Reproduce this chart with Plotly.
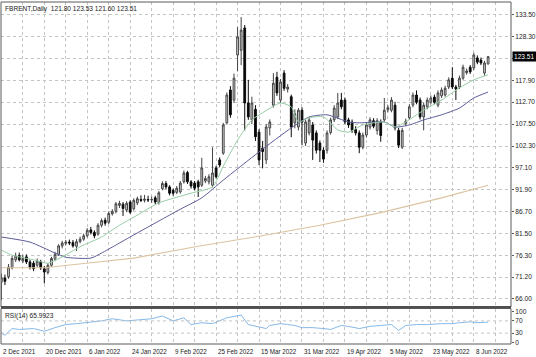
import plotly.graph_objects as go

# ---------------- data ----------------
symbol_header = "FBRENT,Daily  121.80 123.53 121.60 123.51"
rsi_header = "RSI(14) 65.9923"
last_price = 123.51

opens = [70.0, 71.0, 71.3, 73.4, 75.3, 76.3, 75.0, 76.0, 74.8, 74.5,
         74.0, 74.8, 73.2, 72.3, 74.0, 75.5, 76.6, 78.6, 79.2, 79.5,
         79.4, 78.5, 79.6, 80.2, 81.0, 82.4, 81.8, 81.4, 83.5, 84.7,
         84.2, 86.2, 86.8, 88.2, 88.5, 87.1, 89.0, 87.4, 88.8, 89.6,
         89.4, 89.6, 89.5, 90.0, 88.9, 92.2, 93.4, 92.6, 91.8, 91.3,
         91.4, 93.8, 96.0, 93.8, 93.5, 93.8, 93.0, 94.0, 93.8, 93.0,
         97.1, 99.0, 100.6, 107.8, 115.6, 113.2, 123.9, 125.0, 130.3, 112.5,
         108.5, 111.0, 105.6, 101.8, 99.0, 106.6, 112.0, 118.6, 113.2, 119.6,
         115.8, 114.0, 107.8, 106.8, 110.8, 103.0, 105.4, 107.3, 105.4, 103.0,
         101.3, 101.3, 105.5, 108.5, 109.2, 113.2, 113.2, 108.5, 108.0, 106.2,
         105.4, 102.0, 104.9, 106.8, 108.3, 106.0, 108.0, 108.5, 110.9, 110.8,
         112.0, 106.0, 102.0, 107.6, 109.0, 112.0, 114.4, 113.2, 109.2, 111.6,
         112.7, 113.9, 112.0, 114.2, 114.4, 116.3, 118.4, 116.3, 116.3, 118.4,
         119.7, 121.0, 120.8, 123.2, 122.7, 119.6, 121.80]
highs = [72.0, 71.8, 74.3, 76.3, 77.0, 77.0, 76.5, 76.6, 75.3, 75.0,
         75.6, 75.3, 73.8, 74.5, 76.0, 77.2, 79.0, 79.8, 80.0, 80.1,
         80.0, 80.2, 80.8, 81.5, 82.8, 83.1, 82.3, 84.0, 85.1, 85.3,
         86.8, 87.3, 89.0, 89.3, 89.0, 89.2, 89.4, 89.9, 90.3, 90.6,
         90.7, 90.5, 90.3, 90.5, 91.6, 93.9, 94.0, 93.0, 92.2, 92.8,
         94.0, 96.5, 96.4, 94.2, 94.0, 94.3, 99.5, 95.2, 95.6, 102.0,
         97.6, 99.6, 107.8, 115.0, 116.5, 119.5, 130.5, 132.9, 131.0, 118.0,
         114.0, 112.0, 106.3, 103.5, 107.5, 108.6, 119.6, 119.9, 118.2, 120.3,
         117.0, 114.5, 111.0, 111.3, 111.5, 108.6, 109.2, 108.0, 106.0, 103.6,
         102.0, 106.0, 109.0, 112.0, 114.9, 114.9, 113.8, 109.0, 108.6, 107.0,
         106.0, 105.5, 107.9, 109.1, 108.9, 108.9, 108.6, 113.7, 112.0, 113.9,
         112.8, 106.6, 106.6, 108.8, 112.2, 115.0, 115.5, 113.8, 112.6, 113.8,
         114.3, 114.5, 115.5, 116.2, 116.6, 118.6, 121.0, 116.8, 119.0, 121.6,
         120.7, 121.5, 124.4, 123.8, 123.3, 122.5, 123.53]
lows = [65.8, 69.3, 70.8, 73.0, 74.8, 74.9, 74.5, 74.3, 73.0, 72.6,
        73.5, 72.9, 69.7, 71.8, 73.6, 75.0, 76.2, 78.0, 78.7, 78.8,
        78.2, 77.4, 79.2, 79.8, 80.6, 81.3, 80.4, 81.0, 83.0, 83.4,
        83.8, 85.8, 86.3, 87.6, 85.7, 86.6, 86.2, 87.0, 88.3, 89.0,
        88.9, 89.0, 88.8, 88.5, 88.4, 91.8, 92.0, 90.6, 90.5, 90.9,
        91.0, 93.4, 93.3, 92.2, 91.8, 90.2, 92.6, 93.5, 93.2, 92.5,
        94.6, 97.3, 100.2, 107.4, 109.0, 112.5, 120.0, 121.5, 106.0, 108.5,
        107.5, 103.5, 97.8, 97.0, 98.0, 104.8, 111.4, 114.2, 112.5, 115.4,
        115.0, 104.4, 106.5, 106.0, 102.5, 102.3, 104.8, 99.0, 100.5, 98.5,
        98.3, 100.5, 105.0, 108.0, 108.7, 111.0, 107.5, 106.6, 105.4, 104.8,
        100.6, 101.5, 104.3, 106.2, 106.5, 105.0, 103.3, 108.0, 110.3, 110.3,
        106.0, 101.8, 101.6, 107.0, 108.5, 111.5, 112.2, 108.6, 106.0, 111.0,
        112.2, 112.2, 111.5, 113.7, 114.0, 115.8, 115.8, 113.2, 115.8, 118.0,
        119.2, 119.4, 120.3, 121.7, 121.5, 119.0, 121.60]
closes = [71.0, 70.2, 73.6, 75.6, 76.2, 75.3, 75.6, 74.8, 73.5, 73.2,
          75.0, 73.4, 72.4, 74.0, 75.6, 76.6, 78.6, 79.3, 79.5, 79.3,
          78.6, 79.6, 80.2, 81.0, 82.3, 81.8, 81.0, 83.5, 84.6, 84.0,
          86.3, 86.8, 88.6, 88.7, 87.5, 88.7, 86.6, 89.4, 89.8, 89.4,
          89.7, 89.5, 89.6, 89.0, 91.2, 93.4, 92.6, 91.1, 91.1, 92.3,
          93.5, 95.9, 93.8, 92.8, 92.3, 92.6, 97.1, 94.6, 95.0, 95.9,
          95.0, 97.8, 107.3, 114.4, 109.7, 118.4, 128.2, 129.8, 112.5, 109.2,
          112.5, 104.5, 99.0, 101.0, 106.8, 108.0, 117.2, 114.9, 117.5, 116.0,
          116.3, 106.8, 110.0, 110.8, 108.0, 108.0, 108.5, 103.7, 101.3, 101.3,
          99.2, 105.4, 108.5, 111.3, 112.5, 111.6, 108.0, 107.3, 106.0, 105.4,
          102.0, 104.9, 107.3, 108.5, 107.0, 108.3, 104.8, 110.8, 111.4, 113.2,
          106.6, 102.5, 106.0, 108.2, 111.6, 114.4, 112.7, 109.2, 112.0, 113.2,
          113.7, 112.7, 114.9, 115.6, 116.0, 118.0, 116.3, 115.8, 118.4, 121.0,
          120.1, 119.9, 123.9, 122.2, 122.0, 122.0, 123.51]
bars = list(range(len(closes)))

ma_fast_bars = [0, 3, 9, 13, 17, 22, 28, 33, 37, 44, 53, 59, 62, 66, 70, 73, 78,
                81, 83, 86, 90, 94, 97, 101, 107, 110, 113, 118, 123, 128, 132, 136]
ma_fast_vals = [77.6, 76.4, 75.3, 74.5, 76.0, 78.4, 80.7, 83.5, 85.4, 88.8, 91.1,
                92.6, 97.5, 103.7, 108.5, 110.2, 112.5, 111.6, 108.0, 109.0, 109.2,
                106.1, 105.6, 107.3, 108.0, 106.8, 108.0, 110.8, 113.2, 116.1, 118.0, 119.2]
ma_mid_bars = [0, 8, 15, 18, 25, 28, 32, 37, 44, 50, 56, 62, 72, 81, 86, 91,
               97, 100, 107, 110, 114, 118, 123, 128, 132, 136]
ma_mid_vals = [80.7, 79.5, 76.9, 75.9, 75.7, 76.9, 78.8, 81.2, 84.5, 87.3, 90.0,
               94.2, 100.9, 106.6, 109.2, 109.7, 108.0, 107.8, 108.0, 106.8, 107.3,
               108.5, 109.7, 111.3, 113.7, 115.1]
ma_slow_bars = [0, 12, 25, 37, 55, 72, 89, 106, 123, 136]
ma_slow_vals = [73.4, 73.4, 74.6, 75.7, 78.5, 80.9, 83.5, 86.5, 90.0, 93.0]

rsi_bars = [0, 1, 3, 5, 9, 12, 15, 18, 21, 24, 28, 31, 35, 39, 42, 45, 48, 51,
            53, 56, 59, 63, 67, 69, 71, 74, 75, 78, 80, 82, 84, 87, 90, 92, 95,
            97, 100, 103, 106, 109, 111, 113, 116, 119, 123, 126, 128, 131, 133, 136]
rsi_vals = [30, 23, 45, 42, 45, 36, 48, 58, 61, 64, 70, 77, 70, 74, 77, 86, 70, 80,
            58, 64, 61, 80, 89, 58, 52, 45, 55, 61, 58, 55, 48, 48, 45, 42, 55,
            52, 45, 52, 55, 58, 39, 55, 58, 58, 61, 61, 64, 67, 64, 66]

date_labels = ["2 Dec 2021", "20 Dec 2021", "6 Jan 2022", "24 Jan 2022",
               "9 Feb 2022", "25 Feb 2022", "15 Mar 2022", "31 Mar 2022",
               "19 Apr 2022", "5 May 2022", "23 May 2022", "8 Jun 2022"]
price_ticks = [133.50, 128.30, 123.10, 117.90, 112.70, 107.50, 102.30,
               97.10, 91.90, 86.70, 81.50, 76.30, 71.20, 66.00]
rsi_ticks = [0, 30, 70, 100]

# ---------------- layout constants ----------------
W, H = 536, 357
ML, MR, MT, MB = 1, 25, 2, 13
plot_h = H - MT - MB
main_bottom_px = 307
rsi_top_px = 308.5
main_dom = [(H - MB - main_bottom_px) / plot_h, 1.0]
rsi_dom = [0.0, (H - MB - rsi_top_px) / plot_h]

FONT = "Liberation Sans Narrow, Liberation Sans, Arial, sans-serif"
GRID = "#c4c4c4"
AXIS = "#5a5a5a"

grid_step, label_step = 6, 12
grid_vals = list(range(0, 142, grid_step))

price_text = ["%.2f" % p for p in price_ticks]
price_text[price_ticks.index(123.10)] = ""

fig = go.Figure()
fig.add_trace(go.Candlestick(
    x=bars, open=opens, high=highs, low=lows, close=closes,
    increasing=dict(fillcolor="#d8d8d8", line=dict(color="#444444", width=1)),
    decreasing=dict(fillcolor="#0a0a0a", line=dict(color="#0a0a0a", width=1)),
    whiskerwidth=0, xaxis="x", yaxis="y", showlegend=False, hoverinfo="skip"))
fig.add_trace(go.Scatter(x=ma_slow_bars, y=ma_slow_vals, mode="lines",
                         line=dict(color="#dcc3a0", width=1.1), xaxis="x", yaxis="y",
                         showlegend=False, hoverinfo="skip"))
fig.add_trace(go.Scatter(x=ma_mid_bars, y=ma_mid_vals, mode="lines",
                         line=dict(color="#5c5c98", width=1, shape="spline", smoothing=0.6),
                         xaxis="x", yaxis="y", showlegend=False, hoverinfo="skip"))
fig.add_trace(go.Scatter(x=ma_fast_bars, y=ma_fast_vals, mode="lines",
                         line=dict(color="#96cca4", width=1, shape="spline", smoothing=0.6),
                         xaxis="x", yaxis="y", showlegend=False, hoverinfo="skip"))
fig.add_trace(go.Scatter(x=rsi_bars, y=rsi_vals, mode="lines",
                         line=dict(color="#86b8e6", width=1), xaxis="x2", yaxis="y2",
                         showlegend=False, hoverinfo="skip"))

xrange = [-0.1, 142.4]
fig.update_layout(
    width=W, height=H, margin=dict(l=ML, r=MR, t=MT, b=MB, pad=0),
    paper_bgcolor="white", plot_bgcolor="white",
    font=dict(family=FONT, size=7, color="#222222"),
    xaxis=dict(domain=[0, 1], anchor="y", range=xrange, tickmode="array",
               tickvals=grid_vals, ticktext=[""] * len(grid_vals), showticklabels=False,
               showgrid=True, gridcolor=GRID, griddash="dot", gridwidth=1,
               zeroline=False, rangeslider=dict(visible=False), showline=False),
    yaxis=dict(domain=main_dom, anchor="x", side="right", range=[64.10, 136.47],
               tickmode="array", tickvals=price_ticks, ticktext=price_text,
               showgrid=True, gridcolor=GRID, griddash="dot", gridwidth=1,
               zeroline=False, ticks="outside", ticklen=2, tickcolor=AXIS,
               tickfont=dict(size=6.6, color="#222222"), showline=False),
    xaxis2=dict(domain=[0, 1], anchor="y2", range=xrange, tickmode="array",
                tickvals=grid_vals, showticklabels=False,
                showgrid=True, gridcolor=GRID, griddash="dot", gridwidth=1,
                zeroline=False, showline=False),
    yaxis2=dict(domain=rsi_dom, anchor="x2", side="right", range=[-5.5, 110.5],
                tickmode="array", tickvals=rsi_ticks, ticktext=[str(v) for v in rsi_ticks],
                showgrid=False, zeroline=False, ticks="outside", ticklen=2, tickcolor=AXIS,
                tickfont=dict(size=6.6, color="#222222"), showline=False),
)

shapes = []
for lv in (30, 70):
    shapes.append(dict(type="line", xref="x2 domain", yref="y2", x0=0, x1=1, y0=lv, y1=lv,
                       line=dict(color=GRID, width=1, dash="dot")))
shapes.append(dict(type="rect", xref="paper", yref="paper", x0=0, x1=1,
                   y0=main_dom[0], y1=main_dom[1], line=dict(color=AXIS, width=1)))
shapes.append(dict(type="rect", xref="paper", yref="paper", x0=0, x1=1,
                   y0=rsi_dom[0], y1=rsi_dom[1], line=dict(color=AXIS, width=1)))
shapes.append(dict(type="line", xref="paper", yref="paper", x0=0, x1=1,
                   y0=main_dom[0], y1=main_dom[0], line=dict(color="#303030", width=1.5)))
fig.update_layout(shapes=shapes)

# date labels, left-aligned at their grid line (MT4 style)
for k, lab in enumerate(date_labels):
    fig.add_annotation(text=lab, xref="x2", yref="paper", x=k * label_step, y=0,
                       xanchor="left", yanchor="top", xshift=0, yshift=-2,
                       showarrow=False, font=dict(size=6.3, color="#222222"))

fig.add_annotation(text=symbol_header, xref="paper", yref="paper", x=0, y=1,
                   xanchor="left", yanchor="top", xshift=2, yshift=-1, showarrow=False,
                   font=dict(size=6.6, color="#222222"))
fig.add_annotation(text=rsi_header, xref="paper", yref="paper", x=0, y=rsi_dom[1],
                   xanchor="left", yanchor="top", xshift=2, yshift=-1, showarrow=False,
                   font=dict(size=6.6, color="#222222"))
fig.add_annotation(text="%.2f" % last_price, xref="paper", yref="y", x=1, y=last_price,
                   xanchor="left", yanchor="middle", xshift=1, showarrow=False,
                   bgcolor="#000000", borderpad=1, font=dict(size=6.6, color="#ffffff"))

fig.write_html("out.html")
